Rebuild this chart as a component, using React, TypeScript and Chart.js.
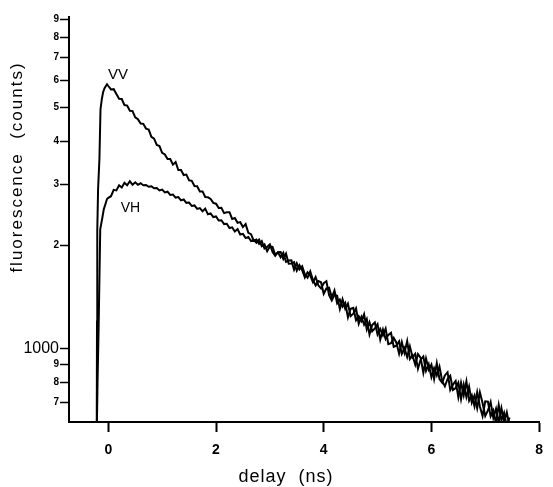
import React, { useEffect, useRef } from 'react';
import { Chart, registerables } from 'chart.js';

Chart.register(...registerables);

// ---- data ----
const vvRiseTimes = [-0.215, -0.21, -0.205, -0.19, -0.165, -0.145, -0.12, -0.095, -0.07, -0.045, -0.024];
const vvRiseCounts = [560, 1200, 2200, 2900, 3550, 4950, 5300, 5560, 5700, 5780, 5850];

const vhRiseTimes = [-0.215, -0.2, -0.18, -0.15, -0.115, -0.084, -0.05, -0.024];
const vhRiseCounts = [560, 800, 1150, 2220, 2380, 2540, 2640, 2720];

const delayNs = [
  0.0, 0.05, 0.1, 0.15, 0.2, 0.25, 0.3, 0.35, 0.4, 0.45,
  0.5, 0.55, 0.6, 0.65, 0.7, 0.75, 0.8, 0.85, 0.9, 0.95,
  1.0, 1.05, 1.1, 1.15, 1.2, 1.25, 1.3, 1.35, 1.4, 1.45,
  1.5, 1.55, 1.6, 1.65, 1.7, 1.75, 1.8, 1.85, 1.9, 1.95,
  2.0, 2.05, 2.1, 2.15, 2.2, 2.25, 2.3, 2.35, 2.4, 2.45,
  2.5, 2.55, 2.6, 2.65, 2.7,
  2.75, 2.8, 2.85, 2.9, 2.95, 3.0, 3.05, 3.1, 3.15, 3.2,
  3.25, 3.3, 3.35, 3.4, 3.45, 3.5, 3.55, 3.6, 3.65, 3.7,
  3.75, 3.8, 3.85, 3.9, 3.95, 4.0, 4.05, 4.1, 4.15, 4.2,
  4.25, 4.3, 4.35, 4.4, 4.45, 4.5, 4.55, 4.6, 4.65, 4.7,
  4.75, 4.8, 4.85, 4.9, 4.95, 5.0, 5.05, 5.1, 5.15, 5.2,
  5.25, 5.3, 5.35, 5.4, 5.45, 5.5, 5.55, 5.6, 5.65, 5.7,
  5.75, 5.8, 5.85, 5.9, 5.95, 6.0, 6.05, 6.1, 6.15, 6.2,
  6.25, 6.3, 6.35, 6.4, 6.45, 6.5, 6.55, 6.6, 6.65, 6.7,
  6.75, 6.8, 6.85, 6.9, 6.95, 7.0, 7.05, 7.1, 7.15, 7.2,
  7.25, 7.3, 7.35, 7.4, 7.45,
];

const vvCounts = [
  5780, 5650, 5660, 5480, 5310, 5300, 5090, 5070, 4900, 4890,
  4690, 4630, 4500, 4490, 4350, 4320, 4120, 4070, 3900, 3870,
  3700, 3660, 3550, 3550, 3420, 3480, 3300, 3300, 3190, 3200,
  3080, 3070, 2965, 2960, 2860, 2860, 2755, 2750, 2720, 2650,
  2635, 2560, 2565, 2475, 2490, 2490, 2380, 2395, 2320, 2330,
  2255, 2300, 2170, 2150, 2060,
  2074, 2016, 2054, 1953, 1975, 2010, 1908, 1861, 1906, 1909,
  1822, 1889, 1765, 1768, 1783, 1686, 1748, 1690, 1610, 1668,
  1631, 1562, 1616, 1528, 1496, 1550, 1571, 1431, 1382, 1434,
  1426, 1306, 1393, 1307, 1352, 1244, 1265, 1310, 1183, 1239,
  1176, 1221, 1102, 1172, 1193, 1101, 1142, 1094, 1145, 1032,
  1039, 1076, 1042, 969, 1047, 975, 1053, 935, 957, 900,
  966, 942, 853, 938, 871, 901, 818, 909, 818, 798,
  838, 856, 760, 788, 807, 724, 798, 734, 805, 708,
  734, 682, 749, 681, 639, 705, 703, 638, 663, 609,
  688, 621, 653, 595, 633,
];

const vhCounts = [
  2740, 2770, 2890, 2880, 2980, 2935, 3030, 2980, 3060, 2990,
  3040, 2990, 3020, 2980, 2985, 2950, 2960, 2920, 2925, 2880,
  2895, 2840, 2855, 2795, 2800, 2745, 2755, 2695, 2710, 2650,
  2655, 2595, 2605, 2545, 2560, 2505, 2550, 2455, 2470, 2410,
  2420, 2355, 2360, 2300, 2305, 2240, 2250, 2190, 2225, 2145,
  2155, 2095, 2110, 2055, 2070,
  2031, 2073, 1984, 2009, 1920, 1982, 1976, 1875, 1906, 1844,
  1900, 1787, 1803, 1805, 1696, 1771, 1700, 1737, 1645, 1610,
  1677, 1584, 1528, 1572, 1560, 1445, 1497, 1504, 1411, 1477,
  1356, 1389, 1325, 1360, 1235, 1308, 1316, 1211, 1244, 1203,
  1260, 1138, 1195, 1125, 1147, 1180, 1064, 1138, 1068, 1097,
  1113, 1014, 1022, 1051, 967, 1005, 947, 1017, 946, 968,
  876, 931, 951, 863, 903, 828, 880, 838, 888, 808,
  779, 818, 836, 760, 770, 798, 715, 788, 725, 778,
  699, 733, 673, 748, 697, 639, 663, 702, 631, 671,
  611, 674, 615, 655, 596,
];

const xTickValues = [0, 2, 4, 6, 8];
const yTickValues = [700, 800, 900, 1000, 2000, 3000, 4000, 5000, 6000, 7000, 8000, 9000];
const yTickLabels = ['7', '8', '9', '1000', '2', '3', '4', '5', '6', '7', '8', '9'];

const curveLabels = ['VV', 'VH'];
const curveLabelTimes = [0.18, 0.41];
const curveLabelCounts = [6220, 2560];

const xTitle = 'delay  (ns)';
const yTitle = 'fluorescence  (counts)';

const FONT = '"Liberation Sans", Arial, Helvetica, sans-serif';

const textPlugin = {
  id: 'textPlugin',
  afterDraw(chart: any) {
    const ctx = chart.ctx as CanvasRenderingContext2D;
    const xs = chart.scales.x;
    const ys = chart.scales.y;
    ctx.save();
    ctx.fillStyle = '#000';
    ctx.textAlign = 'center';
    ctx.textBaseline = 'middle';
    curveLabels.forEach((t, i) => {
      ctx.font = (i === 0 ? '15px ' : '14px ') + FONT;
      ctx.fillText(t, xs.getPixelForValue(curveLabelTimes[i]), ys.getPixelForValue(curveLabelCounts[i]));
    });
    ctx.font = '18px ' + FONT;
    (ctx as any).letterSpacing = '1px';
    ctx.fillText(xTitle, 286, 477);
    ctx.font = '17px ' + FONT;
    (ctx as any).letterSpacing = '2px';
    ctx.translate(17, 167);
    ctx.rotate(-Math.PI / 2);
    ctx.fillText(yTitle, 0, 0);
    ctx.restore();
  },
};

export default function App() {
  const ref = useRef<HTMLCanvasElement | null>(null);

  useEffect(() => {
    if (!ref.current) return;
    const vvData = [
      ...vvRiseTimes.map((t, i) => ({ x: t, y: vvRiseCounts[i] })),
      ...delayNs.map((t, i) => ({ x: t, y: vvCounts[i] })),
    ];
    const vhData = [
      ...vhRiseTimes.map((t, i) => ({ x: t, y: vhRiseCounts[i] })),
      ...delayNs.map((t, i) => ({ x: t, y: vhCounts[i] })),
    ];
    const chart = new Chart(ref.current, {
      type: 'line',
      data: {
        datasets: [
          { label: 'VV', data: vvData, borderColor: '#000', borderWidth: 2, pointRadius: 0, tension: 0, fill: false },
          { label: 'VH', data: vhData, borderColor: '#000', borderWidth: 2, pointRadius: 0, tension: 0, fill: false },
        ],
      },
      options: {
        animation: false,
        responsive: false,
        maintainAspectRatio: false,
        layout: { padding: { top: 17, right: 5, left: 0, bottom: 0 } },
        plugins: { legend: { display: false }, tooltip: { enabled: false }, title: { display: false } },
        scales: {
          x: {
            type: 'linear',
            min: -0.73,
            max: 8,
            afterBuildTicks: (s: any) => {
              s.ticks = xTickValues.map((v) => ({ value: v }));
            },
            afterFit: (s: any) => {
              s.height = 65;
            },
            grid: { display: true, drawOnChartArea: false, drawTicks: true, tickLength: 10, tickWidth: 2, tickColor: '#000', color: '#000' },
            border: { display: true, color: '#000', width: 2 },
            ticks: {
              color: '#000',
              font: { family: FONT, size: 14, weight: 'bold' },
              padding: 10,
              maxRotation: 0,
              autoSkip: false,
              callback: (v: any) => String(v),
            },
          },
          y: {
            type: 'logarithmic',
            min: 614,
            max: 9160,
            afterBuildTicks: (s: any) => {
              s.ticks = yTickValues.map((v) => ({ value: v }));
            },
            afterFit: (s: any) => {
              s.width = 69;
            },
            grid: { display: true, drawOnChartArea: false, drawTicks: true, tickLength: 9, tickWidth: 1.5, tickColor: '#000', color: '#000' },
            border: { display: true, color: '#000', width: 2 },
            ticks: {
              color: '#000',
              padding: 1,
              autoSkip: false,
              font: (c: any) =>
                c.tick && c.tick.value === 1000
                  ? { family: FONT, size: 16, weight: 'normal' }
                  : { family: FONT, size: 10, weight: 'bold' },
              callback: (v: any) => {
                const i = yTickValues.indexOf(Number(v));
                return i >= 0 ? yTickLabels[i] : '';
              },
            },
          },
        },
      },
      plugins: [textPlugin],
    } as any);
    return () => chart.destroy();
  }, []);

  return (
    <div style={{ position: 'absolute', left: 0, top: 0, width: 553, height: 487, background: '#fff' }}>
      <canvas ref={ref} width={553} height={487} style={{ display: 'block', width: 553, height: 487 }} />
    </div>
  );
}
